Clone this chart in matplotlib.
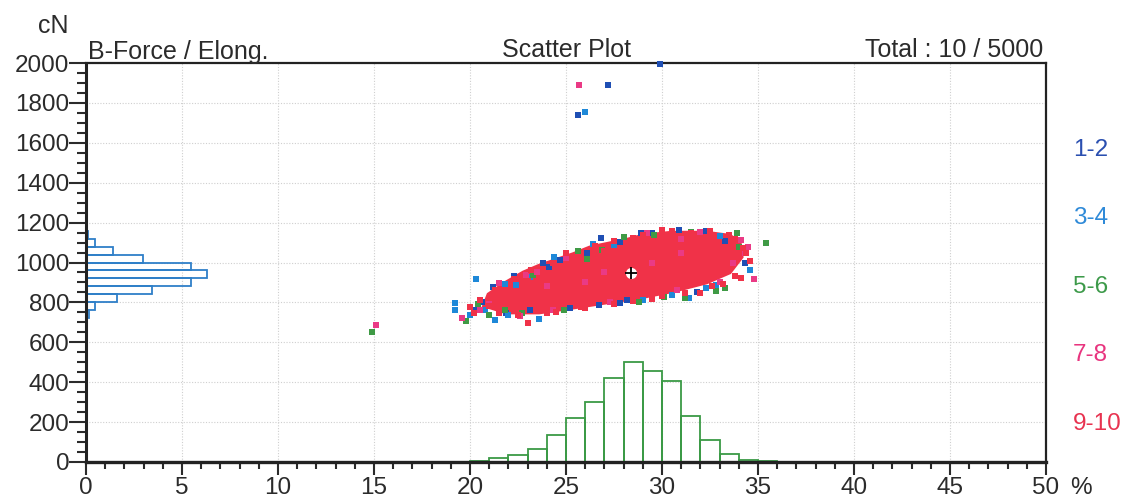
import numpy as np
import matplotlib
matplotlib.use("Agg")
import matplotlib.pyplot as plt
from matplotlib.ticker import MultipleLocator

plt.rcParams['font.family'] = ['Liberation Sans', 'DejaVu Sans']

# ---------------- data ----------------
group_labels = ["1-2", "3-4", "5-6", "7-8", "9-10"]
group_colors = ["#1f4fb4", "#1e88d8", "#3f9a45", "#ea3a85", "#f03248"]
label_colors = ["#2a4fb0", "#2f8ad8", "#3d9a4a", "#e8357f", "#e83350"]

# force histogram (left): bin lower edges (cN), bar lengths (in % axis units)
force_bin_lo = [600, 640, 680, 720, 760, 800, 840, 880, 920, 960, 1000, 1040,
                1080, 1120, 1160, 1720, 1880, 1960]
force_hist = [0.03, 0.03, 0.07, 0.16, 0.49, 1.6, 3.44, 5.47, 6.29, 5.47, 2.95,
              1.42, 0.49, 0.1, 0.04, 0.05, 0.05, 0.05]
force_bin_w = 40

# elongation histogram (bottom): bin lower edges (%), heights (cN units)
elong_bin_lo = [19, 20, 21, 22, 23, 24, 25, 26, 27, 28, 29, 30, 31, 32, 33, 34, 35]
elong_hist = [2, 5, 20, 33, 65, 134, 222, 302, 423, 501, 456, 408, 229, 109, 38, 12, 3]

# dense core of the cloud (outline)
core_x = [20.8, 21.9, 23.6, 25.4, 27.1, 28.85, 30.6, 32.3, 33.5, 34.1, 34.0,
          33.5, 32.3, 30.5, 29.0, 28.2, 26.25, 25.4, 23.6, 22.8, 21.9, 21.0]
core_y = [787, 754, 754, 779, 804, 829, 862, 904, 954, 1029, 1100,
          1130, 1145, 1145, 1130, 1110, 1071, 1038, 979, 946, 896, 837]

g12_x = [29.9, 27.2, 25.6, 28.2, 26.7, 21.9, 24.7, 26.1, 27.8, 24.1, 26.8, 28.9,
         30.9, 20.6, 22.3, 31.8, 33.3, 29.5, 25.2, 23.1,
         21.2, 23.8, 32.3, 34.3, 27.8, 20.2]
g12_y = [1995, 1891, 1738, 812, 787, 745, 1013, 1046, 1104, 979, 1123, 1148,
         1163, 800, 930, 850, 1110, 1150, 770, 760,
         875, 995, 1160, 1000, 795, 760]

g34_x = [26.0, 20.3, 19.2, 19.2, 20.0, 21.3, 23.6, 32.8, 32.3, 31.4, 23.1, 22.4,
         33.0, 20.8, 27.5, 30.5, 22.0, 24.4, 29.0, 34.6, 21.8, 26.4]
g34_y = [1752, 916, 795, 762, 737, 712, 717, 887, 874, 824, 926, 887,
         1133, 760, 1090, 835, 735, 1030, 810, 960, 890, 1095]

g56_x = [14.9, 19.8, 35.4, 31.2, 30.1, 28.8, 24.9, 21.8, 26.9, 26.1, 23.3, 31.5,
         33.9, 21.0, 32.8, 29.6, 34.0, 22.7, 25.6, 28.0, 33.3, 20.4]
g56_y = [653, 708, 1096, 820, 829, 804, 762, 762, 1063, 1020, 937, 1153,
         1148, 735, 855, 1140, 1080, 745, 1060, 1130, 870, 790]

g78_x = [25.7, 15.1, 21.5, 19.6, 34.8, 30.8, 23.5, 34.3, 33.7, 32.0, 34.1, 20.5,
         22.6, 27.3, 25.0, 31.0, 27.0, 29.5, 31.0, 24.0, 26.0,
         21.0, 24.3, 29.2, 33.0, 22.9, 34.5]
g78_y = [1891, 688, 899, 720, 916, 862, 954, 1046, 996, 1153, 1113, 760,
         730, 800, 1025, 1120, 950, 1000, 1050, 880, 900,
         790, 760, 1150, 900, 935, 1080]

g910_x = [23.0, 34.1, 32.0, 30.0, 20.2, 21.0, 33.5, 28.5, 24.0, 26.0, 29.5, 33.2,
          34.6, 22.0, 23.0, 25.5, 27.0, 31.5, 34.2,
          21.5, 22.5, 24.5, 25.8, 27.5, 28.5, 30.0, 31.2, 32.6, 33.8,
          21.3, 22.3, 23.2, 24.3, 25.0, 26.5, 27.5, 29.0, 30.5, 32.5, 33.8,
          34.4, 20.5, 20.0]
g910_y = [695, 922, 845, 1163, 745, 780, 1140, 1125, 745, 770, 815, 890,
          1010, 860, 905, 1005, 1060, 1150, 1075,
          745, 738, 752, 775, 790, 805, 830, 845, 880, 930,
          860, 915, 960, 1000, 1050, 1085, 1110, 1140, 1158, 1160, 1120,
          1050, 810, 775]

center_x, center_y = 28.4, 945

x_ticks = list(range(0, 51, 5))
y_ticks = list(range(0, 2001, 200))

# ---------------- figure ----------------
W, H = 1127, 499
fig = plt.figure(figsize=(W / 100, H / 100), dpi=100)
L, R, T, B = 86, 1046, 63, 462
ax = fig.add_axes([L / W, 1 - B / H, (R - L) / W, (B - T) / H])
ax.set_xlim(0, 50)
ax.set_ylim(0, 2000)

txt = "#2b2b2b"
ax.set_xticks(x_ticks)
ax.set_yticks(y_ticks)
ax.xaxis.set_minor_locator(MultipleLocator(1))
ax.yaxis.set_minor_locator(MultipleLocator(50))
ax.tick_params(axis='y', which='major', length=12, width=1.5, pad=0,
               labelsize=17.5, colors=txt)
ax.tick_params(axis='y', which='minor', length=6.5, width=1.5, color=txt)
ax.tick_params(axis='x', which='major', length=9.5, width=1.5, pad=1.5,
               labelsize=17.5, colors=txt)
ax.tick_params(axis='x', which='minor', length=5, width=1.5, color=txt)
for s in ax.spines.values():
    s.set_color("#222222")
    s.set_linewidth(1.6)
ax.spines['left'].set_linewidth(2.2)
ax.spines['bottom'].set_linewidth(2.4)

ax.grid(True, which='major', color='#cfcfcf', linestyle=(0, (1, 1.5)),
        linewidth=0.8)
ax.set_axisbelow(True)

# histograms
ax.barh(force_bin_lo, force_hist, height=force_bin_w, left=0, align='edge',
        fill=False, edgecolor='#2f7fc8', linewidth=1.3, zorder=2)
ax.bar(elong_bin_lo, elong_hist, width=1, bottom=0, align='edge',
       fill=False, edgecolor='#3a9a45', linewidth=1.3, zorder=2)

# scatter cloud
ax.fill(core_x, core_y, color=group_colors[4], edgecolor=group_colors[4],
        linewidth=4, zorder=3)
ms = 4.8
for gx, gy, c in [(g12_x, g12_y, group_colors[0]), (g34_x, g34_y, group_colors[1]),
                  (g56_x, g56_y, group_colors[2]), (g78_x, g78_y, group_colors[3]),
                  (g910_x, g910_y, group_colors[4])]:
    ax.plot(gx, gy, linestyle='none', marker='s', ms=ms, color=c, mew=0,
            zorder=4, clip_on=False)

ax.plot(center_x, center_y, marker='o', ms=7, mfc='white', mec='white', zorder=5)
ax.plot(center_x, center_y, marker='+', ms=9, mew=1.3, color='black', zorder=6)

# texts
def ftext(px, py, s, **kw):
    fig.text(px / W, 1 - py / H, s, color=txt, **kw)

ftext(53, 33, "cN", fontsize=18, ha='center', va='baseline')
ftext(88, 59, "B-Force / Elong.", fontsize=18, ha='left', va='baseline')
ftext(566, 57, "Scatter Plot", fontsize=18, ha='center', va='baseline')
ftext(1043, 57, "Total : 10 / 5000", fontsize=18, ha='right', va='baseline')
ftext(1070, 488, "%", fontsize=17.5, ha='left', va='center')

for lab, col, py in zip(group_labels, label_colors, [150, 218, 287, 355, 424]):
    fig.text(1073 / W, 1 - py / H, lab, color=col, fontsize=17.5,
             ha='left', va='center')

fig.savefig("out.png", dpi=100, facecolor='white')
